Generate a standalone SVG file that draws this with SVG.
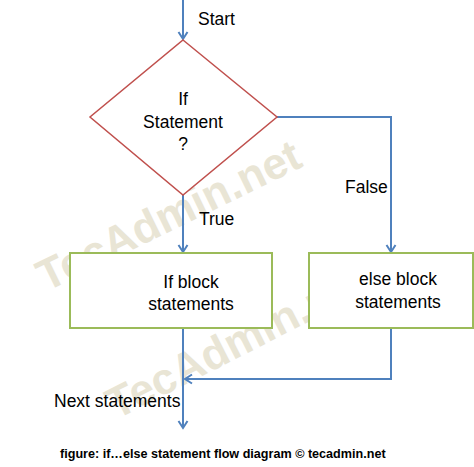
<svg xmlns="http://www.w3.org/2000/svg" width="474" height="467" viewBox="0 0 474 467">
<style>
text{font-family:"Liberation Sans",Arial,sans-serif;fill:#000}
.lbl{font-size:17.5px}
.wm{font-size:44px;font-weight:bold;fill:#e9e5d5}
.cap{font-size:12.6px;font-weight:bold}
.conn{fill:none;stroke:#4f81bd;stroke-width:2}
.box{fill:#fff;stroke:#9bbb59;stroke-width:2}
.dia{fill:#fff;stroke:#c0504d;stroke-width:1.5}
</style>
<defs>
<marker id="ah" markerWidth="12" markerHeight="12" refX="10" refY="6" orient="auto" markerUnits="userSpaceOnUse">
<polyline points="3,1.5 10,6 3,10.5" fill="none" stroke="#4f81bd" stroke-width="2"/>
</marker>
</defs>
<rect width="474" height="467" fill="#fff"/>
<g id="watermark">
<text class="wm" transform="translate(46,292) rotate(-26)">TecAdmin.net</text>
<text class="wm" transform="translate(116,420) rotate(-27)">TecAdmin.net</text>
</g>
<g id="connectors">
<line class="conn" x1="183" y1="0" x2="183" y2="39" marker-end="url(#ah)"/>
<line class="conn" x1="183" y1="195" x2="183" y2="252" marker-end="url(#ah)"/>
<polyline class="conn" points="277,117 391,117 391,252" marker-end="url(#ah)"/>
<line class="conn" x1="183" y1="328" x2="183" y2="428" marker-end="url(#ah)"/>
<polyline class="conn" points="391,328 391,379 185,379" marker-end="url(#ah)"/>
</g>
<g id="decision">
<polygon class="dia" points="183,40 277,117 183,195 90,117"/>
<text class="lbl" x="183" y="105" text-anchor="middle">If</text>
<text class="lbl" x="183" y="128" text-anchor="middle">Statement</text>
<text class="lbl" x="183" y="150" text-anchor="middle">?</text>
</g>
<g id="ifblock">
<rect class="box" x="70" y="253" width="202" height="75"/>
<text class="lbl" x="191" y="288" text-anchor="middle">If block</text>
<text class="lbl" x="191" y="310" text-anchor="middle">statements</text>
</g>
<g id="elseblock">
<rect class="box" x="309" y="253" width="164" height="75"/>
<text class="lbl" x="398" y="285" text-anchor="middle">else block</text>
<text class="lbl" x="398" y="308" text-anchor="middle">statements</text>
</g>
<g id="labels">
<text class="lbl" x="198" y="25">Start</text>
<text class="lbl" x="199" y="225">True</text>
<text class="lbl" x="345" y="193">False</text>
<text class="lbl" x="54" y="407">Next statements</text>
<text class="cap" x="60" y="458">figure: if…else statement flow diagram © tecadmin.net</text>
</g>
</svg>
